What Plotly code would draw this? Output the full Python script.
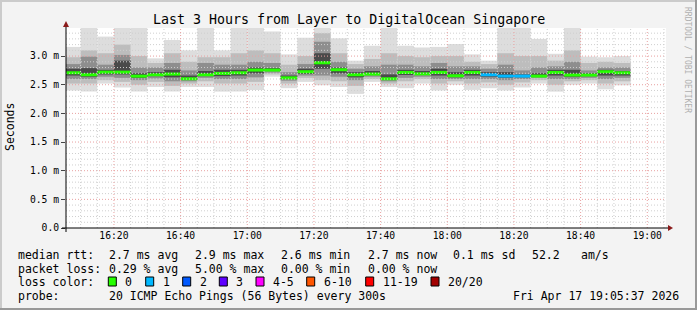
import plotly.graph_objects as go
import pandas as pd

# ---------------- data ----------------
bar_end = pd.date_range('2026-04-17 16:10', '2026-04-17 18:55', freq='5min')  # 34 five-minute steps

median_ms = [2.709, 2.674, 2.720, 2.720, 2.650, 2.674, 2.686, 2.604, 2.674, 2.698,
             2.709, 2.756, 2.756, 2.620, 2.727, 2.883, 2.762, 2.674, 2.686, 2.604,
             2.715, 2.690, 2.715, 2.657, 2.715, 2.674, 2.651, 2.651, 2.651, 2.715,
             2.669, 2.669, 2.727, 2.709]
loss_pings = [0] * 25 + [1, 1, 1] + [0] * 6

ping_min = [2.40, 2.38, 2.52, 2.45, 2.38, 2.46, 2.38, 2.46, 2.46, 2.38,
            2.38, 2.41, 2.64, 2.44, 2.55, 2.49, 2.46, 2.34, 2.55, 2.46,
            2.44, 2.52, 2.40, 2.50, 2.41, 2.44, 2.40, 2.45, 2.52, 2.38,
            2.50, 2.52, 2.42, 2.49]
ping_p3 = [2.52, 2.52, 2.58, 2.55, 2.50, 2.55, 2.48, 2.52, 2.56, 2.52,
           2.52, 2.55, 2.68, 2.52, 2.62, 2.58, 2.56, 2.48, 2.60, 2.52,
           2.56, 2.60, 2.52, 2.56, 2.52, 2.54, 2.50, 2.54, 2.58, 2.50,
           2.56, 2.58, 2.52, 2.56]
ping_p6 = [2.60, 2.60, 2.64, 2.62, 2.58, 2.61, 2.56, 2.56, 2.62, 2.60,
           2.60, 2.63, 2.71, 2.57, 2.66, 2.66, 2.64, 2.58, 2.64, 2.56,
           2.62, 2.64, 2.60, 2.60, 2.60, 2.60, 2.58, 2.60, 2.62, 2.60,
           2.60, 2.62, 2.60, 2.62]
ping_p9 = [2.66, 2.64, 2.68, 2.68, 2.62, 2.65, 2.63, 2.59, 2.65, 2.65,
           2.66, 2.70, 2.74, 2.60, 2.69, 2.78, 2.70, 2.63, 2.67, 2.59,
           2.67, 2.67, 2.66, 2.63, 2.66, 2.64, 2.62, 2.63, 2.64, 2.66,
           2.64, 2.65, 2.66, 2.66]
ping_p12 = [2.78, 2.79, 2.76, 2.92, 2.70, 2.72, 2.76, 2.66, 2.74, 2.76,
            2.76, 2.80, 2.79, 2.66, 2.78, 3.05, 2.80, 2.72, 2.74, 2.68,
            2.76, 2.74, 2.78, 2.72, 2.76, 2.72, 2.72, 2.68, 2.70, 2.76,
            2.76, 2.70, 2.76, 2.74]
ping_p15 = [2.86, 2.99, 2.85, 3.02, 2.80, 2.80, 2.88, 2.75, 2.88, 2.85,
            2.85, 2.90, 2.88, 2.72, 2.86, 3.25, 2.90, 2.78, 2.82, 2.85,
            2.85, 2.82, 2.88, 2.82, 2.82, 2.78, 2.85, 2.75, 2.80, 2.82,
            2.90, 2.75, 2.80, 2.80]
ping_p18 = [2.98, 3.10, 3.05, 3.20, 3.00, 2.88, 3.05, 2.90, 2.98, 2.98,
            3.05, 3.10, 3.05, 2.85, 3.00, 3.40, 3.05, 2.86, 2.95, 3.05,
            3.00, 2.98, 3.00, 3.00, 2.90, 2.86, 3.05, 3.00, 3.00, 2.92,
            3.10, 2.88, 2.90, 2.88]
ping_max = [3.16, 3.55, 3.34, 3.55, 3.55, 2.96, 3.28, 3.10, 3.55, 3.10,
            3.55, 3.55, 3.43, 3.03, 3.32, 3.55, 3.31, 2.92, 3.18, 3.55,
            3.18, 3.15, 3.16, 3.21, 3.03, 2.92, 3.55, 3.55, 3.30, 3.04,
            3.55, 2.99, 2.98, 3.00]

y_tickvals = [0.0, 0.5, 1.0, 1.5, 2.0, 2.5, 3.0]
y_ticktext = ['0.0', '0.5 m', '1.0 m', '1.5 m', '2.0 m', '2.5 m', '3.0 m']
x_ticktimes = ['2026-04-17 16:20', '2026-04-17 16:40', '2026-04-17 17:00', '2026-04-17 17:20',
               '2026-04-17 17:40', '2026-04-17 18:00', '2026-04-17 18:20', '2026-04-17 18:40',
               '2026-04-17 19:00']

loss_labels = ['0', '1', '2', '3', '4-5', '6-10', '11-19', '20/20']
loss_colors = ['#26ff00', '#00b8ff', '#0059ff', '#5e00ff', '#ff00ff', '#ff5500', '#ff0000', '#a10000']

# ---------------- geometry helpers ----------------
W, H = 697, 310
L, R, T, B = 66, 31, 28, 82
PW, PH = W - L - R, H - T - B
def px(x): return (x - L) / PW
def py(y): return (H - B - y) / PH

X0 = pd.Timestamp('2026-04-17 16:05:37')
X1 = pd.Timestamp('2026-04-17 19:05:37')
step = pd.Timedelta(minutes=5)
centers = [t - step / 2 for t in bar_end]
width_ms = step.total_seconds() * 1000

fig = go.Figure()

bands = [(ping_min, ping_max, '#dddddd'),
         (ping_p3, ping_p18, '#bdbdbd'),
         (ping_p6, ping_p15, '#8e8e8e'),
         (ping_p9, ping_p12, '#4a4a4a')]
for lo, hi, col in bands:
    fig.add_trace(go.Bar(x=centers, y=[h - l for l, h in zip(lo, hi)], base=lo,
                         width=[width_ms] * len(centers), marker_color=col,
                         marker_line_width=0, hoverinfo='skip', showlegend=False))

# median lines, coloured by loss
def loss_idx(n):
    if n <= 3: return n
    if n <= 5: return 4
    if n <= 10: return 5
    if n <= 19: return 6
    return 7

for ci, col in enumerate(loss_colors):
    xs, ys = [], []
    for t, m, n in zip(bar_end, median_ms, loss_pings):
        if loss_idx(n) == ci:
            xs += [t - step, t, None]
            ys += [m, m, None]
    if xs:
        fig.add_trace(go.Scatter(x=xs, y=ys, mode='lines', line=dict(color=col, width=3),
                                 hoverinfo='skip', showlegend=False))

shapes = []
# grid (drawn above the smoke, as rrdtool does)
minor_h = [round(i * 0.1, 1) for i in range(1, 35)]
for v in minor_h:
    major = abs(v * 2 - round(v * 2)) < 1e-6
    shapes.append(dict(type='line', xref='paper', yref='y', x0=0, x1=1, y0=v, y1=v, layer='above',
                       line=dict(color='#e8a0a0' if major else '#cfcfcf', width=1, dash='1px,2px')))
t = pd.Timestamp('2026-04-17 16:10')
while t <= X1:
    major = t.minute % 20 == 0
    shapes.append(dict(type='line', xref='x', yref='paper', x0=t, x1=t, y0=0, y1=1, layer='above',
                       line=dict(color='#e8a0a0' if major else '#cfcfcf', width=1, dash='1px,2px')))
    t += step
# axes with arrows
shapes.append(dict(type='line', xref='paper', yref='paper', x0=px(62), x1=px(670), y0=py(228), y1=py(228),
                   line=dict(color='black', width=1), layer='above'))
shapes.append(dict(type='line', xref='paper', yref='paper', x0=0, x1=0, y0=py(232), y1=py(24),
                   line=dict(color='black', width=1), layer='above'))
shapes.append(dict(type='path', xref='paper', yref='paper', layer='above',
                   path=f'M {px(668)} {py(225)} L {px(673)} {py(228)} L {px(668)} {py(231)} Z',
                   fillcolor='#8b1a1a', line=dict(width=0)))
shapes.append(dict(type='path', xref='paper', yref='paper', layer='above',
                   path=f'M {px(63)} {py(27)} L {px(66)} {py(21)} L {px(69)} {py(27)} Z',
                   fillcolor='#8b1a1a', line=dict(width=0)))
# frame
shapes.append(dict(type='rect', xref='paper', yref='paper', x0=px(0), x1=px(697), y0=py(0), y1=py(310),
                   line=dict(width=0), fillcolor='rgba(0,0,0,0)'))
shapes.append(dict(type='line', xref='paper', yref='paper', x0=px(0), x1=px(697), y0=py(1), y1=py(1),
                   line=dict(color='#cbcbcb', width=2)))
shapes.append(dict(type='line', xref='paper', yref='paper', x0=px(1), x1=px(1), y0=py(0), y1=py(310),
                   line=dict(color='#cbcbcb', width=2)))
shapes.append(dict(type='line', xref='paper', yref='paper', x0=px(0), x1=px(697), y0=py(309), y1=py(309),
                   line=dict(color='#999999', width=2)))
shapes.append(dict(type='line', xref='paper', yref='paper', x0=px(696), x1=px(696), y0=py(0), y1=py(310),
                   line=dict(color='#999999', width=2)))

FONT = 'DejaVu Sans Mono'
ann = []
def text(x, y, s, size=11.5, anchor='left', color='black', angle=0):
    ann.append(dict(x=px(x), y=py(y), xref='paper', yref='paper', text=s, showarrow=False,
                    xanchor=anchor, yanchor='middle', textangle=angle,
                    font=dict(family=FONT, size=size, color=color)))

text(348.5, 19, 'Last 3 Hours from Layer to DigitalOcean Singapore', size=13.3, anchor='center')
text(10, 127, 'Seconds', size=11.5, anchor='center', angle=-90)
text(688, 60, 'RRDTOOL / TOBI OETIKER', size=8, anchor='center', color='#b0b0b0', angle=90)

row1 = [(16, 'median rtt:'), (107.3, '2.7 ms avg'), (193.3, '2.9 ms max'), (279.3, '2.6 ms min'),
        (365.7, '2.7 ms now'), (451, '0.1 ms sd'), (530, '52.2'), (579.3, 'am/s')]
row2 = [(16, 'packet loss:'), (107.3, '0.29 % avg'), (193.3, '5.00 % max'), (279.3, '0.00 % min'),
        (365.7, '0.00 % now')]
for x, s in row1: text(x, 254.5, s)
for x, s in row2: text(x, 268.5, s)
text(16, 282, 'loss color:')
sq_x = [108.3, 145.7, 182.7, 219.3, 256, 306.7, 365.7, 431]
for x, lab, col in zip(sq_x, loss_labels, loss_colors):
    shapes.append(dict(type='rect', xref='paper', yref='paper', x0=px(x), x1=px(x + 8), y0=py(277), y1=py(286),
                       fillcolor=col, line=dict(color='black', width=1)))
    text(x + 15, 282, lab)
text(16, 296, 'probe:')
text(107.3, 296, '20 ICMP Echo Pings (56 Bytes) every 300s')
text(680.5, 296, 'Fri Apr 17 19:05:37 2026', anchor='right')

fig.update_layout(
    width=W, height=H, margin=dict(l=L, r=R, t=T, b=B),
    paper_bgcolor='#f3f3f3', plot_bgcolor='white', barmode='overlay',
    showlegend=False, hovermode=False, shapes=shapes, annotations=ann,
    font=dict(family=FONT, color='black'),
    xaxis=dict(type='date', range=[X0, X1], tickvals=x_ticktimes, tickformat='%H:%M',
               showgrid=False, zeroline=False, showline=False, ticks='',
               tickfont=dict(family=FONT, size=9.7, color='black'), fixedrange=True),
    yaxis=dict(range=[0, 3.49], tickvals=y_tickvals, ticktext=y_ticktext,
               showgrid=False, zeroline=False, showline=False, ticks='outside', ticklen=4,
               tickcolor='#444444', tickfont=dict(family=FONT, size=9.7, color='black'),
               fixedrange=True),
)
fig.write_html('out.html')
